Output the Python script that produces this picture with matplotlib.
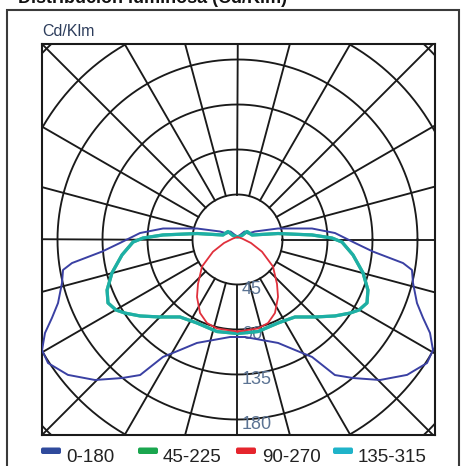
import numpy as np
import matplotlib
matplotlib.use('Agg')
import matplotlib.pyplot as plt
from matplotlib.patches import Rectangle, FancyBboxPatch

plt.rcParams['font.family'] = ['Liberation Sans', 'DejaVu Sans']

W, H = 464, 466

# photometric planes (legend order)
planes = ['0-180', '45-225', '90-270', '135-315']

# gamma angle from nadir (deg) and intensity (cd/klm), one half-plane each
gamma_c0 = [0, 4.4, 21.4, 27.5, 32.4, 35.7, 39.8, 45.4, 51.4, 56.9, 60.5, 64.1,
            67.1, 70.5, 76.1, 80.1, 81.9, 84.9, 88.3, 93.8, 98.4, 105.2, 114.6,
            119.7, 138.8, 151, 180]
cd_c0 = [97.5, 97.8, 111.1, 124.6, 139.1, 166.9, 180.3, 200.1, 217, 226.2, 224.6,
         214, 201.4, 190.4, 180.8, 177.1, 167.2, 136, 117.6, 97.7, 75.3, 42,
         19.2, 12.1, 10.6, 5.1, 3]

gamma_c90 = [0, 13, 20.1, 27, 35.2, 41.6, 52.7, 63.5, 75.5, 102.5, 180]
cd_c90 = [92, 91.3, 88.9, 82.5, 70.3, 59.5, 44.6, 27.4, 13.9, 4.6, 2.5]

gamma_c135 = [0, 12.6, 25.9, 36.6, 45, 51.9, 56.8, 59.9, 63.9, 68.8, 75.1, 82.4,
              88.6, 90.9, 93.5, 98.4, 107.2, 130.1, 131.6, 180]
cd_c135 = [94, 94.3, 92.8, 96.5, 109.6, 123.9, 134.4, 140.5, 144.2, 139.9, 129.9,
           116.5, 104.5, 94.5, 74.6, 40.9, 15.2, 12.4, 6.0, 2.5]

# the 45-225 plane coincides with 135-315
gamma_c45 = list(gamma_c135)
cd_c45 = list(cd_c135)

grid_rings = [45, 90, 135, 180, 225, 270]
ring_labels = [45, 90, 135, 180]

legend_colors = ['#2f4a9c', '#1aa64f', '#e5252d', '#1fb3c9']


def outline(gamma, cd):
    """Mirror a half-plane into a closed outline (nadir pointing down)."""
    g = np.radians(gamma)
    i = np.asarray(cd, dtype=float)
    x = np.concatenate([-i * np.sin(g), (i * np.sin(g))[::-1]])
    y = np.concatenate([-i * np.cos(g), (-i * np.cos(g))[::-1]])
    return x, y


fig = plt.figure(figsize=(W / 100, H / 100), dpi=100)

# outer frame and heading
fig.patches.append(Rectangle((7 / W, 1 - 475 / H), (459 - 7) / W, (475 - 10) / H,
                             transform=fig.transFigure, fill=False,
                             edgecolor='#3a3a3a', lw=1.5))
fig.text(18 / W, 1 - 3 / H, 'Distribución luminosa (Cd/Klm)', fontsize=13,
         fontweight='bold', va='baseline', color='#111111')
fig.text(42 / W, 1 - 31 / H, 'Cd/Klm', fontsize=11.5, va='center', color='#2d3d5c')

ax = fig.add_axes([41.5 / W, 1 - 435 / H, (435 - 41.5) / W, (435 - 44) / H])
ax.set_xlim(-196, 197.5)
ax.set_ylim(-195.5, 195.5)
ax.set_xticks([])
ax.set_yticks([])
for s in ax.spines.values():
    s.set_linewidth(1.5)
    s.set_color('#1a1a1a')

# polar grid
t = np.linspace(0, 2 * np.pi, 721)
for r in grid_rings:
    ax.plot(r * np.cos(t), r * np.sin(t), color='#1a1a1a', lw=1.35, zorder=1)
for a in np.radians(np.arange(0, 360, 15)):
    ax.plot([45 * np.cos(a), 400 * np.cos(a)], [45 * np.sin(a), 400 * np.sin(a)],
            color='#1a1a1a', lw=1.35, zorder=1)

for r in ring_labels:
    ax.text(4.5, -r - 5, str(r), fontsize=13, color='#5b7393', va='center',
            ha='left', zorder=2)

# luminous intensity curves
x, y = outline(gamma_c0, cd_c0)
ax.plot(x, y, color='#3a40a3', lw=1.4, zorder=4)
x, y = outline(gamma_c45, cd_c45)
ax.plot(x, y, color=legend_colors[1], lw=2.3, zorder=5)
x, y = outline(gamma_c135, cd_c135)
ax.plot(x, y, color=legend_colors[3], lw=2.3, alpha=0.72, zorder=6)
x, y = outline(gamma_c90, cd_c90)
ax.plot(x, y, color='#e0303c', lw=1.3, zorder=7)

# legend
patch_x = [41, 138, 236, 333]
text_x = [66, 163, 262, 358]
for name, col, px_, tx in zip(planes, legend_colors, patch_x, text_x):
    fig.patches.append(FancyBboxPatch((px_ / W, 1 - 454 / H), 20 / W, 6.5 / H,
                                      boxstyle='round,pad=0,rounding_size=0.004',
                                      transform=fig.transFigure,
                                      facecolor=col, edgecolor='none'))
    fig.text(tx / W, 1 - 462 / H, name, fontsize=13.5, va='baseline', color='#222222')

fig.savefig('out.png', dpi=100)
